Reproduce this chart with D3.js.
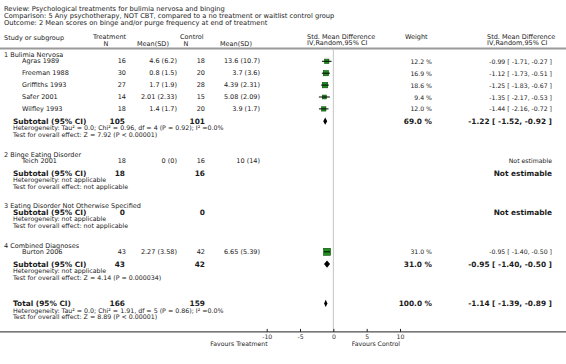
<!DOCTYPE html>
<html>
<head>
<meta charset="utf-8">
<script src="https://cdn.jsdelivr.net/npm/d3@7"></script>
<style>
  body { margin: 0; background: #fff; }
  svg { display: block; font-family: "DejaVu Sans", Verdana, sans-serif; }
</style>
</head>
<body>
<div id="chart"></div>
<script>
// header texts
const reviewText = "Review:  Psychological treatments for bulimia nervosa and binging";
const comparisonText = "Comparison:  5 Any psychotherapy, NOT CBT, compared to a no treatment or waitlist control group";
const outcomeText = "Outcome:  2 Mean scores on binge and/or purge frequency at end of treatment";

// subgroups
const groupNames = ["1 Bulimia Nervosa", "2 Binge Eating Disorder", "3 Eating Disorder Not Otherwise Specified", "4 Combined Diagnoses"];
const subTreatN = [105, 18, 0, 43];
const subCtrlN = [101, 16, 0, 42];
const subSmd = [-1.22, null, null, -0.95];
const subLo = [-1.52, null, null, -1.40];
const subHi = [-0.92, null, null, -0.50];
const subWeight = [69.0, null, null, 31.0];
const subHet = [
  "Heterogeneity: Tau² = 0.0; Chi² = 0.96, df = 4 (P = 0.92); I² =0.0%",
  "Heterogeneity: not applicable",
  "Heterogeneity: not applicable",
  "Heterogeneity: not applicable"
];
const subTest = [
  "Test for overall effect: Z = 7.92 (P < 0.00001)",
  "Test for overall effect: not applicable",
  "Test for overall effect: not applicable",
  "Test for overall effect: Z = 4.14 (P = 0.000034)"
];

// studies
const studyNames = ["Agras 1989", "Freeman 1988", "Griffiths 1993", "Safer 2001", "Wilfley 1993", "Teich 2001", "Burton 2006"];
const studyGroup = [0, 0, 0, 0, 0, 1, 3];
const treatN = [16, 30, 27, 14, 18, 18, 43];
const treatMean = [4.6, 0.8, 1.7, 2.01, 1.4, 0, 2.27];
const treatSD = [6.2, 1.5, 1.9, 2.33, 1.7, 0, 3.58];
const ctrlN = [18, 20, 28, 15, 20, 16, 42];
const ctrlMean = [13.6, 3.7, 4.39, 5.08, 3.9, 10, 6.65];
const ctrlSD = [10.7, 3.6, 2.31, 2.09, 1.7, 14, 5.39];
const smd = [-0.99, -1.12, -1.25, -1.35, -1.44, null, -0.95];
const smdLo = [-1.71, -1.73, -1.83, -2.17, -2.16, null, -1.40];
const smdHi = [-0.27, -0.51, -0.67, -0.53, -0.72, null, -0.50];
const weight = [12.2, 16.9, 18.6, 9.4, 12.0, null, 31.0];

// total
const totalN = [166, 159];
const totalSmd = [-1.14, -1.39, -0.89];
const totalWeight = 100.0;
const totalHet = "Heterogeneity: Tau² = 0.0; Chi² = 1.91, df = 5 (P = 0.86); I² =0.0%";
const totalTest = "Test for overall effect: Z = 8.89 (P < 0.00001)";

// axis
const axisTicks = [-10, -5, 0, 5, 10];
const favoursLeft = "Favours Treatment";
const favoursRight = "Favours Control";

const width = 566, height = 364;
const txt = "#1a1a1a";
const small = 6.5, bold = 7.4, tiny = 6.2;

const svg = d3.select("#chart").append("svg")
    .attr("width", width)
    .attr("height", height);

const x = d3.scaleLinear().domain([-10, 10]).range([266.7, 400]);

const fmtCI = (m, l, h) => `${m.toFixed(2)} [ ${l.toFixed(2)}, ${h.toFixed(2)} ]`;
const fmtMS = (m, s) => `${m} (${s})`;

function text(xp, yp, s, opts = {}) {
    return svg.append("text")
        .attr("x", xp).attr("y", yp)
        .attr("dominant-baseline", "central")
        .attr("text-anchor", opts.anchor || "start")
        .attr("font-size", opts.size || small)
        .attr("font-weight", opts.bold ? "bold" : null)
        .attr("fill", txt)
        .text(s);
}

// title block
text(4, 8.5, reviewText, {size: 6.7});
text(4, 15.5, comparisonText, {size: 6.7});
text(4, 22.5, outcomeText, {size: 6.7});

// column headers
text(4, 37.5, "Study or subgroup");
text(93, 36.5, "Treatment");
text(106, 43.5, "N", {anchor: "middle"});
text(137, 43.5, "Mean(SD)");
text(180, 36.5, "Control");
text(186, 43.5, "N", {anchor: "middle"});
text(220, 43.5, "Mean(SD)");
text(307, 36.5, "Std. Mean Difference");
text(307, 43.2, "IV,Random,95% CI");
text(405, 36.5, "Weight");
text(487, 36.5, "Std. Mean Difference");
text(487, 43.2, "IV,Random,95% CI");

svg.append("line")
    .attr("x1", 0).attr("x2", width)
    .attr("y1", 48.5).attr("y2", 48.5)
    .attr("stroke", "#9a9a9a").attr("stroke-width", 2);

// build rows
const rows = [];
let y = 55;
groupNames.forEach((g, gi) => {
    rows.push({type: "group", y, gi});
    const members = studyNames.map((_, i) => i).filter(i => studyGroup[i] === gi);
    if (members.length) {
        y += 6.3;
        members.forEach((si, k) => {
            if (k) y += 11.9;
            rows.push({type: "study", y, si});
        });
        y += 12.3;
    } else {
        y += 5.8;
    }
    rows.push({type: "subtotal", y, gi});
    rows.push({type: "het", y: y + 6.6, s: subHet[gi]});
    rows.push({type: "het", y: y + 13.4, s: subTest[gi]});
    y += 13.4 + 19.9;
});
y += 6;
rows.push({type: "total", y});
rows.push({type: "het", y: y + 6.6, s: totalHet});
rows.push({type: "het", y: y + 13.4, s: totalTest});
const axisY = y + 28.5;

// zero line
svg.append("line")
    .attr("x1", x(0)).attr("x2", x(0))
    .attr("y1", 49.5).attr("y2", axisY)
    .attr("stroke", "#c4c4c4").attr("stroke-width", 1);

const size = d3.scaleSqrt().domain([0, 31]).range([0, 7]);

function diamond(m, l, h, yc) {
    const hh = 3.6;
    svg.append("path")
        .attr("d", `M${x(l)},${yc}L${x(m)},${yc - hh}L${x(h)},${yc}L${x(m)},${yc + hh}Z`)
        .attr("fill", "#000");
}

rows.forEach(r => {
    if (r.type === "group") {
        text(4, r.y, groupNames[r.gi]);
    } else if (r.type === "study") {
        const i = r.si;
        text(22, r.y, studyNames[i]);
        text(126, r.y, treatN[i], {anchor: "end"});
        text(177, r.y, fmtMS(treatMean[i], treatSD[i]), {anchor: "end"});
        text(205, r.y, ctrlN[i], {anchor: "end"});
        text(260, r.y, fmtMS(ctrlMean[i], ctrlSD[i]), {anchor: "end"});
        if (smd[i] == null) {
            text(552, r.y, "Not estimable", {anchor: "end", size: tiny});
        } else {
            const s = size(weight[i]);
            svg.append("rect")
                .attr("x", x(smd[i]) - s / 2).attr("y", r.y - s / 2)
                .attr("width", s).attr("height", s)
                .attr("fill", "#1f8f1f").attr("stroke", "#0b4d0b").attr("stroke-width", 0.6);
            svg.append("line")
                .attr("x1", x(smdLo[i])).attr("x2", x(smdHi[i]))
                .attr("y1", r.y).attr("y2", r.y)
                .attr("stroke", "#000").attr("stroke-width", 1);
            text(432, r.y, weight[i].toFixed(1) + " %", {anchor: "end", size: tiny});
            text(552, r.y, fmtCI(smd[i], smdLo[i], smdHi[i]), {anchor: "end", size: tiny});
        }
    } else if (r.type === "subtotal") {
        const gi = r.gi;
        text(13, r.y, "Subtotal (95% CI)", {bold: true, size: bold});
        text(125, r.y, subTreatN[gi], {anchor: "end", bold: true, size: bold});
        text(205, r.y, subCtrlN[gi], {anchor: "end", bold: true, size: bold});
        if (subSmd[gi] == null) {
            text(552, r.y, "Not estimable", {anchor: "end", bold: true, size: bold});
        } else {
            diamond(subSmd[gi], subLo[gi], subHi[gi], r.y);
            text(432, r.y, subWeight[gi].toFixed(1) + " %", {anchor: "end", bold: true, size: bold});
            text(552, r.y, fmtCI(subSmd[gi], subLo[gi], subHi[gi]), {anchor: "end", bold: true, size: bold});
        }
    } else if (r.type === "total") {
        text(13, r.y, "Total (95% CI)", {bold: true, size: bold});
        text(125, r.y, totalN[0], {anchor: "end", bold: true, size: bold});
        text(205, r.y, totalN[1], {anchor: "end", bold: true, size: bold});
        diamond(totalSmd[0], totalSmd[1], totalSmd[2], r.y);
        text(432, r.y, totalWeight.toFixed(1) + " %", {anchor: "end", bold: true, size: bold});
        text(552, r.y, fmtCI(totalSmd[0], totalSmd[1], totalSmd[2]), {anchor: "end", bold: true, size: bold});
    } else {
        text(13, r.y, r.s, {size: 6.3});
    }
});

// axis
svg.append("line")
    .attr("x1", 0).attr("x2", width)
    .attr("y1", axisY).attr("y2", axisY)
    .attr("stroke", "#222").attr("stroke-width", 1);

const axis = svg.append("g")
    .attr("transform", `translate(0,${axisY})`)
    .call(d3.axisBottom(x).tickValues(axisTicks).tickFormat(d3.format("d"))
        .tickSizeInner(-3).tickSizeOuter(0).tickPadding(2.5));
axis.select(".domain").remove();
axis.selectAll("line").attr("stroke", "#222");
axis.selectAll("text")
    .attr("font-family", "DejaVu Sans, sans-serif")
    .attr("font-size", 6.2).attr("fill", "#333")
    .text(d => d < 0 ? "-" + Math.abs(d) : d);

text(x(-10) + 1, axisY + 12, favoursLeft, {anchor: "end", size: tiny});
text(x(10), axisY + 12, favoursRight, {anchor: "end", size: tiny});
</script>
</body>
</html>
